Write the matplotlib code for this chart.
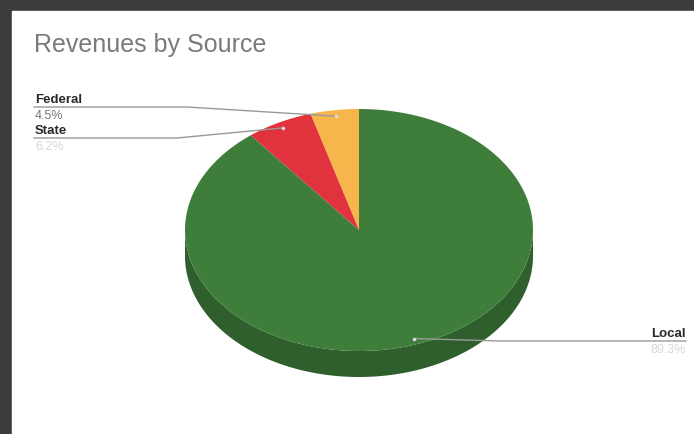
import numpy as np
import matplotlib.pyplot as plt

# revenue shares by source (percent)
sources = ['Federal', 'State', 'Local']
shares = [4.5, 6.2, 89.3]
top_colors = ['#F7B64B', '#E1333E', '#3F7D3B']
side_colors = ['#C98E35', '#A82630', '#2F5F2D']

plt.rcParams['font.family'] = ['Liberation Sans', 'DejaVu Sans']

fig = plt.figure(figsize=(6.94, 4.34), dpi=100)
fig.patch.set_facecolor('#3b3b3b')
ax = fig.add_axes([0, 0, 1, 1])
ax.set_xlim(0, 694)
ax.set_ylim(434, 0)
ax.axis('off')

# white card inside the dark frame
ax.fill([12, 694, 694, 12], [11, 11, 434, 434], color='white', zorder=0)

# pie geometry (pixels)
cx, cy, rx, ry, depth = 359, 230, 174, 121, 26

# slice angles, counter-clockwise from 12 o'clock
fracs = np.array(shares) / sum(shares)
edges = 90 + 360 * np.concatenate([[0], np.cumsum(fracs)])


def ring(t0, t1, r=1.0, dy=0.0, n=200):
    t = np.radians(np.linspace(t0, t1, n))
    return cx + r * rx * np.cos(t), cy + dy - r * ry * np.sin(t)


# side wall: only the front half (180..360 deg) shows
for i in range(len(shares)):
    a0, a1 = edges[i], edges[i + 1]
    for lo, hi in [(180, 360), (540, 720)]:
        s0, s1 = max(a0, lo), min(a1, hi)
        if s1 <= s0:
            continue
        xt, yt = ring(s0, s1)
        xb, yb = ring(s1, s0, dy=depth)
        ax.fill(np.r_[xt, xb], np.r_[yt, yb], color=side_colors[i], lw=0, zorder=1)

# top face
for i in range(len(shares)):
    xs, ys = ring(edges[i], edges[i + 1])
    ax.fill(np.r_[cx, xs], np.r_[cy, ys], color=top_colors[i], lw=0, zorder=2)

# leader dots at slice mid-angles
mids = (edges[:-1] + edges[1:]) / 2
dots = [ring(m, m, r=0.95, n=1) for m in mids]
dots = [(float(x[0]), float(y[0])) for x, y in dots]

line_kw = dict(color='#9a9a9a', lw=1.0, zorder=3)
# Federal
ax.plot([34, 187, dots[0][0]], [107, 107, dots[0][1]], **line_kw)
# State
ax.plot([34, 177, dots[1][0]], [138, 138, dots[1][1]], **line_kw)
# Local
ax.plot([dots[2][0], 500, 686], [dots[2][1], 341, 341], **line_kw)
for x, y in dots:
    ax.plot(x, y, 'o', ms=2.5, color='#dddddd', mec='none', zorder=4)

lab_kw = dict(fontsize=9.5, fontweight='bold', color='#2a2a2a', va='baseline')
pct_kw = dict(fontsize=9, va='baseline')
ax.text(35, 103, sources[0], **lab_kw)
ax.text(35, 119, f'{shares[0]}%', color='#777777', **pct_kw)
ax.text(35, 134, sources[1], **lab_kw)
ax.text(35, 150, f'{shares[1]}%', color='#d6d6d6', **pct_kw)
ax.text(686, 337, sources[2], ha='right', **lab_kw)
ax.text(686, 353, f'{shares[2]}%', ha='right', color='#d6d6d6', **pct_kw)

ax.text(34, 52, 'Revenues by Source', fontsize=18, color='#7a7a7a', va='baseline')

fig.savefig('out.png', dpi=100, facecolor=fig.get_facecolor())
